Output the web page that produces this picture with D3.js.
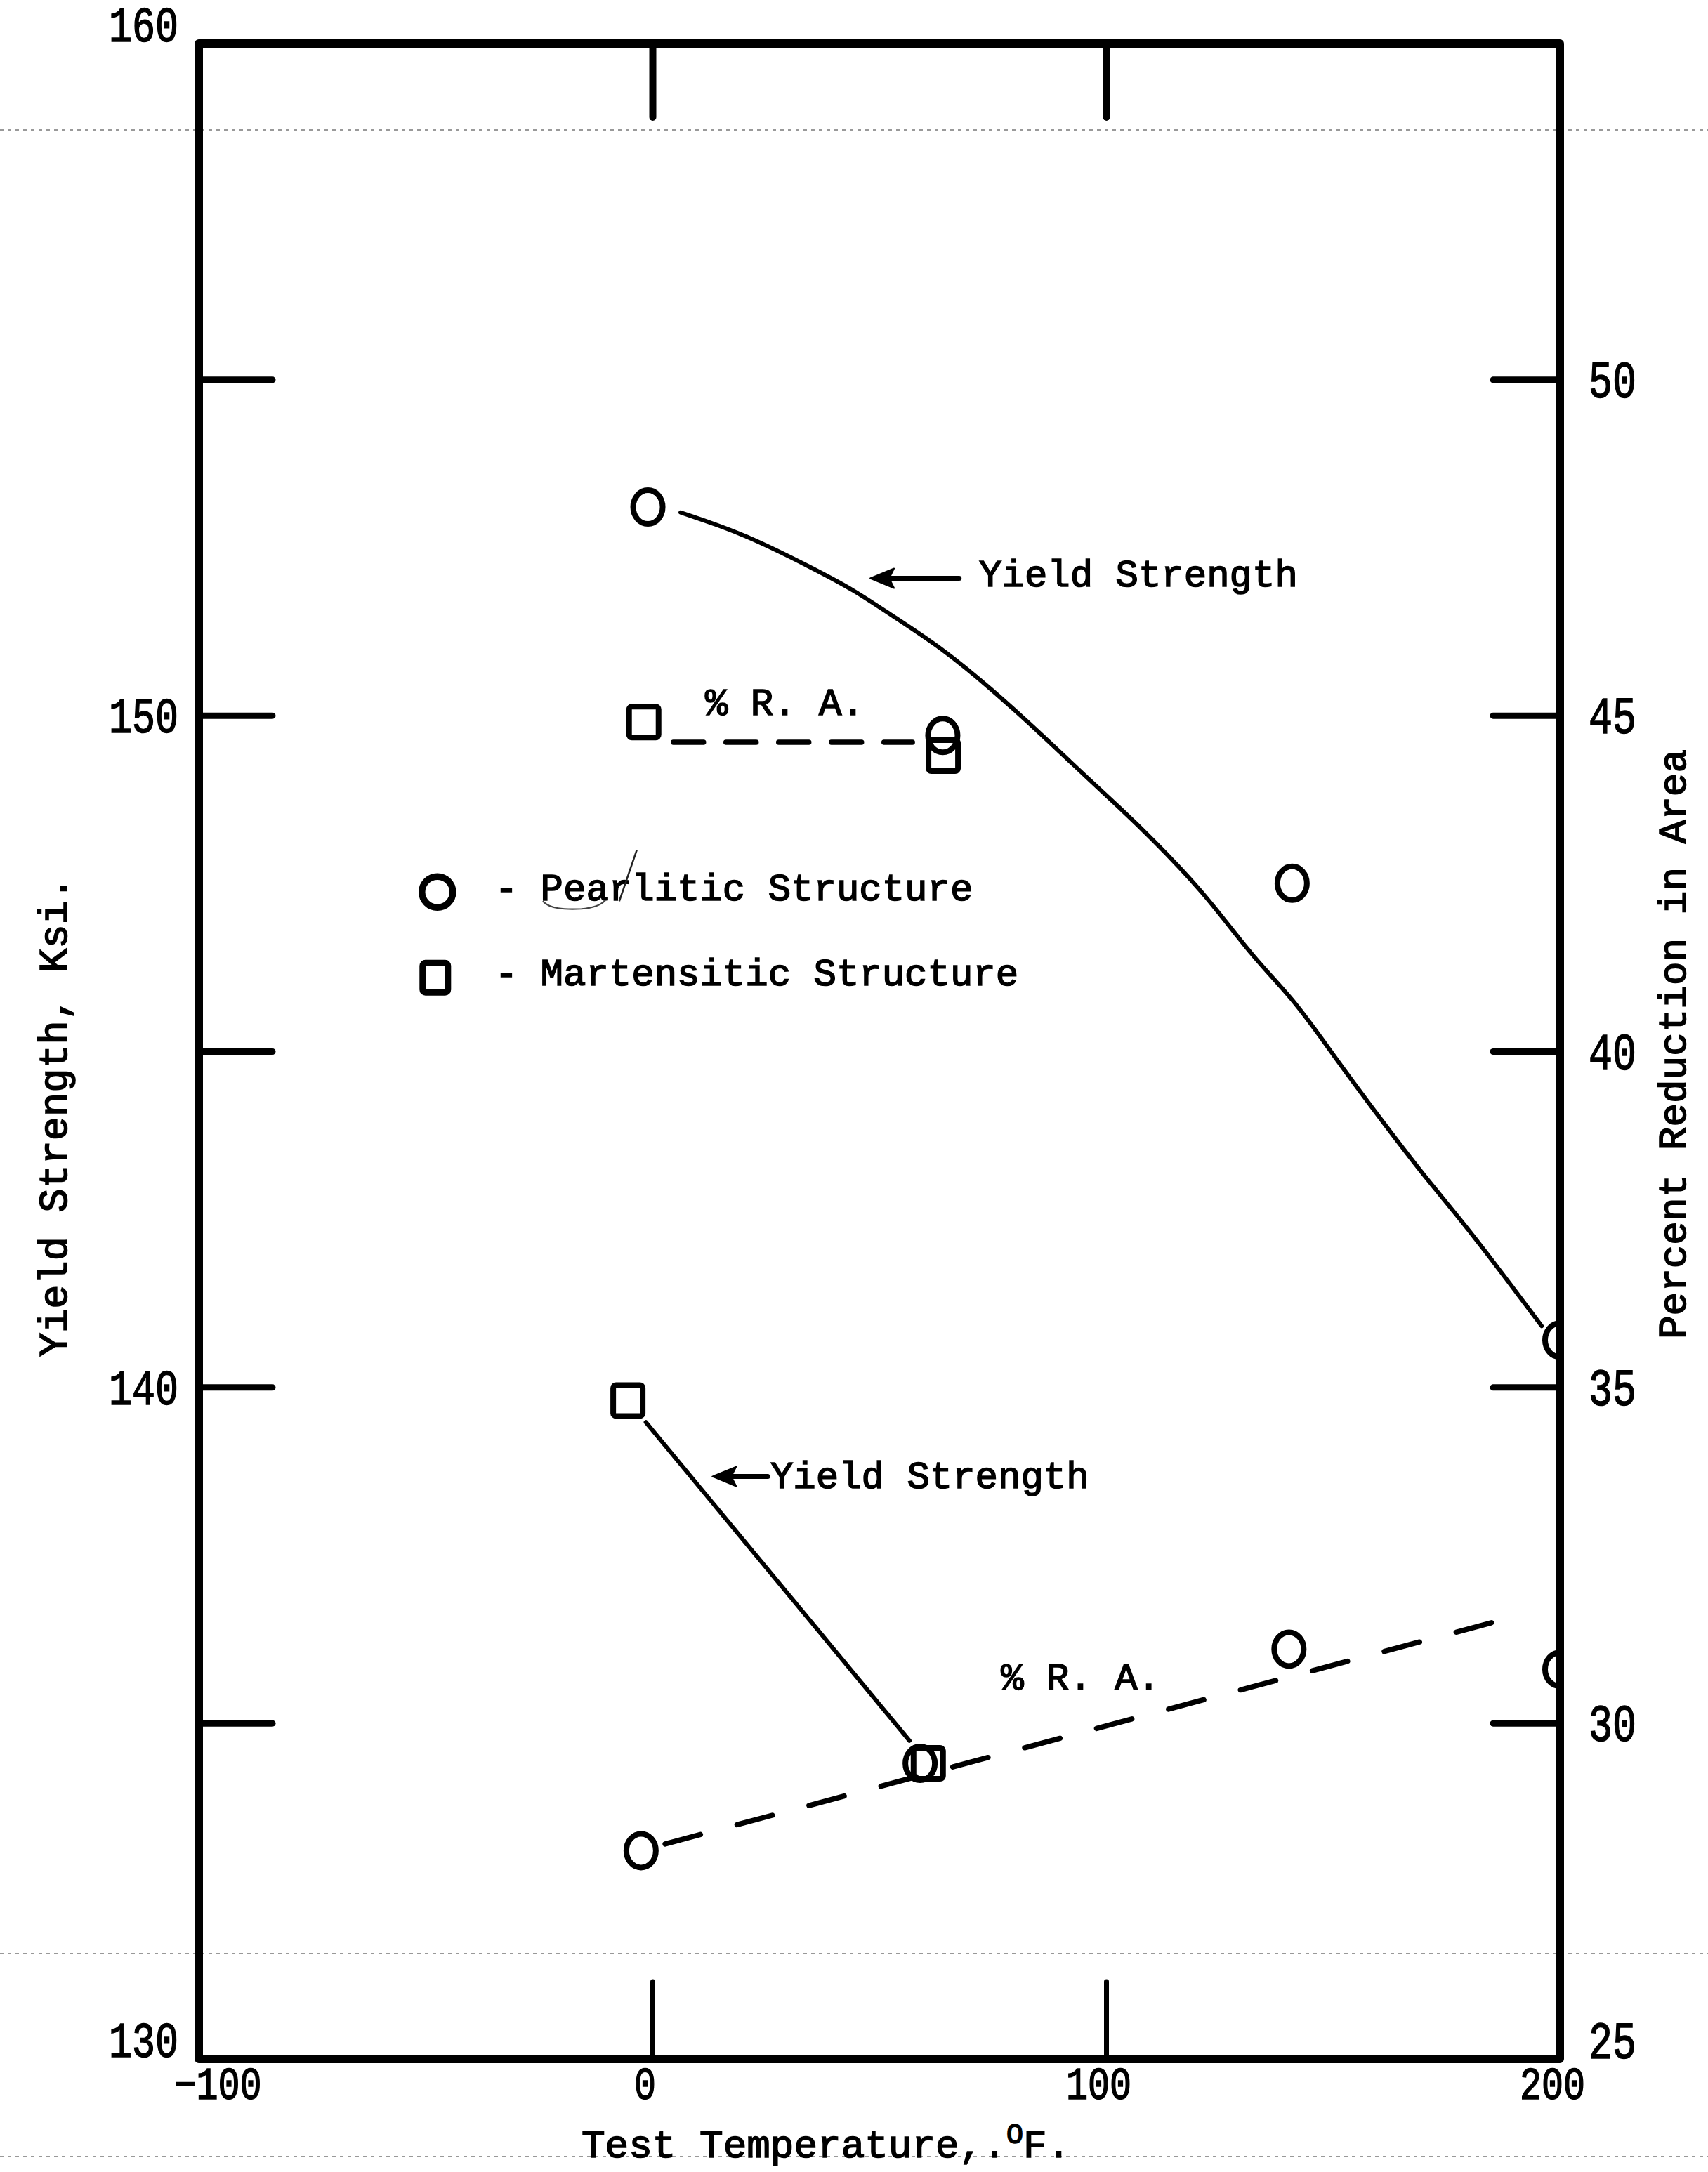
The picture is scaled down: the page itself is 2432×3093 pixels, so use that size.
<!DOCTYPE html>
<html>
<head>
<meta charset="utf-8">
<script src="https://cdn.jsdelivr.net/npm/d3@7"></script>
<style>
  html, body { margin: 0; padding: 0; background: #fff; }
  svg { display: block; }
  .type { font-family: "Liberation Mono", "Courier New", "DejaVu Sans Mono", monospace; fill: #000; stroke: #000; stroke-width: 1.6px; }
</style>
</head>
<body>
<svg id="chart" width="2432" height="3093"></svg>
<script>
// ---- Data: test temperature (deg F), yield strength (ksi), reduction in area (%) ----
// Pearlitic structure
const pearliticYieldTemp = [-1, 64, 141, 200];
const pearliticYield     = [153.1, 149.7, 147.5, 140.7];
// hand-faired yield strength curve through the pearlitic points
const pearliticYieldCurveTemp = [6.2, 20.3, 35.6, 44.3, 52.9, 63.8, 74.6, 85.4, 96.3, 102.9, 109.6, 121.8, 132.5, 141.6, 150.8, 161.5, 170.7, 179.9, 196.0];
const pearliticYieldCurve     = [153.02, 152.70, 152.18, 151.87, 151.48, 151.00, 150.40, 149.74, 149.04, 148.63, 148.20, 147.35, 146.38, 145.76, 144.87, 143.90, 143.09, 142.36, 140.91];
const pearliticRaTemp = [-2.5, 59, 140.3, 200];
const pearliticRa     = [28.1, 29.4, 31.1, 30.8];
// faired reduction-in-area line (dashed)
const pearliticRaLineTemp = [2.8, 185.3];
const pearliticRaLine     = [28.2, 31.5];

// Martensitic structure
const martensiticYieldTemp = [-5.4, 60.8];
const martensiticYield     = [139.8, 134.4];
const martensiticRaTemp = [-1.9, 64.1];
const martensiticRa     = [44.9, 44.4];
const martensiticRaLineTemp = [4.6, 57.3];
const martensiticRaLine     = [44.6, 44.6];

// ---- Axis ticks ----
const tempTicks        = [-100, 0, 100, 200];
const tempInnerTicks   = [0, 100];
const yieldLabelTicks  = [130, 140, 150, 160];
const yieldInnerTicks  = [135, 140, 145, 150, 155];
const raLabelTicks     = [25, 30, 35, 40, 45, 50];
const raInnerTicks     = [30, 35, 40, 45, 50];

// ---- Scales ----
const x  = d3.scaleLinear().domain([-100, 200]).range([283, 2221]);
const yL = d3.scaleLinear().domain([130, 160]).range([2932, 62]);
const yR = d3.scaleLinear().domain([25, 55]).range([2932, 62]);

const svg = d3.select("#chart");
svg.append("rect").attr("width", 2432).attr("height", 3093).attr("fill", "#fff");

const [x0, x1] = x.range();
const [yb, yt] = yL.range();

// faint ruled lines of the paper
const rules = svg.append("g").attr("stroke", "#777").attr("stroke-width", 2.2)
  .attr("stroke-dasharray", "5 6").attr("opacity", 0.75);
[185, 2782, 3071].forEach(ry => {
  rules.append("line").attr("x1", 0).attr("x2", 2432).attr("y1", ry).attr("y2", ry);
});

// ---- Inner ticks ----
function styleTicks(g, w) {
  g.select(".domain").remove();
  g.selectAll("text").remove();
  g.selectAll("line").attr("stroke", "#000").attr("stroke-width", w).attr("stroke-linecap", "round");
}
svg.append("g").attr("transform", `translate(${x0},0)`)
  .call(d3.axisLeft(yL).tickValues(yieldInnerTicks).tickSizeInner(-105).tickSizeOuter(0))
  .call(g => styleTicks(g, 9));
svg.append("g").attr("transform", `translate(${x1},0)`)
  .call(d3.axisRight(yR).tickValues(raInnerTicks).tickSizeInner(-95).tickSizeOuter(0))
  .call(g => styleTicks(g, 9));
svg.append("g").attr("transform", `translate(0,${yt})`)
  .call(d3.axisTop(x).tickValues(tempInnerTicks).tickSizeInner(-105).tickSizeOuter(0))
  .call(g => styleTicks(g, 10));
svg.append("g").attr("transform", `translate(0,${yb})`)
  .call(d3.axisBottom(x).tickValues(tempInnerTicks).tickSizeInner(-110).tickSizeOuter(0))
  .call(g => styleTicks(g, 7));

// ---- Frame ----
svg.append("rect")
  .attr("x", x0).attr("y", yt).attr("width", x1 - x0).attr("height", yb - yt)
  .attr("fill", "none").attr("stroke", "#000").attr("stroke-width", 12)
  .attr("stroke-linejoin", "round");

// ---- Tick labels (typed digits are tall and narrow) ----
function styleLabels(g, size, advance) {
  g.select(".domain").remove();
  g.selectAll("line").remove();
  g.selectAll("text").attr("class", "type").attr("font-size", size)
    .attr("textLength", function () { return this.textContent.length * advance; })
    .attr("lengthAdjust", "spacingAndGlyphs");
}
svg.append("g").attr("transform", `translate(${x0},0)`)
  .call(d3.axisLeft(yL).tickValues(yieldLabelTicks).tickSize(0).tickPadding(29).tickFormat(d3.format("d")))
  .call(g => styleLabels(g, 70, 33))
  .call(g => g.selectAll("text").attr("dy", d => (d === 130 || d === 160) ? "-0.05em" : "0.34em"));
svg.append("g").attr("transform", `translate(${x1},0)`)
  .call(d3.axisRight(yR).tickValues(raLabelTicks).tickSize(0).tickPadding(41).tickFormat(d3.format("d")))
  .call(g => styleLabels(g, 74, 34))
  .call(g => g.selectAll("text").attr("dy", d => d === 25 ? "-0.02em" : "0.34em"));
svg.append("g").attr("transform", `translate(0,${yb})`)
  .call(d3.axisBottom(x).tickValues(tempTicks).tickSize(0).tickPadding(12).tickFormat(d3.format("d")))
  .call(g => styleLabels(g, 64, 31))
  .call(g => g.selectAll("text").attr("dx", d => d < 0 ? 27 : -11));

// ---- Axis titles ----
svg.append("text").attr("class", "type").attr("font-size", 57)
  .attr("text-anchor", "middle")
  .attr("transform", `translate(95,1590) rotate(-90)`)
  .text("Yield Strength, Ksi.");
svg.append("text").attr("class", "type").attr("font-size", 56)
  .attr("text-anchor", "middle")
  .attr("transform", `translate(2400,1487) rotate(-90)`)
  .text("Percent Reduction in Area");
const xt = svg.append("text").attr("class", "type").attr("font-size", 56)
  .attr("x", 828).attr("y", 3072);
xt.append("tspan").text("Test Temperature,.");
xt.append("tspan").attr("font-size", 40).attr("dy", -20).text("O");
xt.append("tspan").attr("dy", 20).text("F.");

// ---- Plot marks (clipped to the frame) ----
svg.append("clipPath").attr("id", "plotClip")
  .append("rect").attr("x", x0).attr("y", yt).attr("width", x1 - x0).attr("height", yb - yt);
const plot = svg.append("g").attr("clip-path", "url(#plotClip)");

const zip = (ts, vs) => ts.map((t, i) => ({ t, v: vs[i] }));

// pearlitic yield strength curve (solid, smoothly faired)
plot.append("path")
  .datum(zip(pearliticYieldCurveTemp, pearliticYieldCurve))
  .attr("fill", "none").attr("stroke", "#000").attr("stroke-width", 6)
  .attr("stroke-linecap", "round").attr("stroke-linejoin", "round")
  .attr("d", d3.line().x(d => x(d.t)).y(d => yL(d.v)).curve(d3.curveBasis));

// martensitic yield strength line (solid, trimmed clear of the markers)
{
  const p = zip(martensiticYieldTemp, martensiticYield).map(d => [x(d.t), yL(d.v)]);
  const dx = p[1][0] - p[0][0], dy = p[1][1] - p[0][1];
  const len = Math.hypot(dx, dy), ux = dx / len, uy = dy / len;
  plot.append("line")
    .attr("x1", p[0][0] + ux * 40).attr("y1", p[0][1] + uy * 40)
    .attr("x2", p[1][0] - ux * 42).attr("y2", p[1][1] - uy * 42)
    .attr("stroke", "#000").attr("stroke-width", 6).attr("stroke-linecap", "round");
}

// reduction-in-area lines (dashed)
plot.append("path")
  .datum(zip(martensiticRaLineTemp, martensiticRaLine))
  .attr("fill", "none").attr("stroke", "#000").attr("stroke-width", 7.5)
  .attr("stroke-linecap", "round").attr("stroke-dasharray", "43 32")
  .attr("d", d3.line().x(d => x(d.t)).y(d => yR(d.v)));
plot.append("path")
  .datum(zip(pearliticRaLineTemp, pearliticRaLine))
  .attr("fill", "none").attr("stroke", "#000").attr("stroke-width", 7.5)
  .attr("stroke-linecap", "round").attr("stroke-dasharray", "52 54")
  .attr("d", d3.line().x(d => x(d.t)).y(d => yR(d.v)));

// markers
function circles(data, yScale) {
  plot.append("g").selectAll("ellipse").data(data).join("ellipse")
    .attr("cx", d => x(d.t)).attr("cy", d => yScale(d.v))
    .attr("rx", 21).attr("ry", 24)
    .attr("fill", "none").attr("stroke", "#000").attr("stroke-width", 8);
}
function squares(data, yScale) {
  plot.append("g").selectAll("rect").data(data).join("rect")
    .attr("x", d => x(d.t) - 21).attr("y", d => yScale(d.v) - 22)
    .attr("width", 42).attr("height", 44).attr("rx", 4)
    .attr("fill", "none").attr("stroke", "#000").attr("stroke-width", 8);
}
circles(zip(pearliticYieldTemp, pearliticYield), yL);
circles(zip(pearliticRaTemp, pearliticRa), yR);
squares(zip(martensiticYieldTemp, martensiticYield), yL);
squares(zip(martensiticRaTemp, martensiticRa), yR);

// ---- Curve labels with arrows ----
const notes = [
  { text: "Yield Strength", t: 72.0, v: 151.92, scale: yL, arrow: { from: 67.6, to: 48.0, v: 152.04 } },
  { text: "% R. A.",        t: 11.6, v: 150.01, scale: yL },
  { text: "Yield Strength", t: 26.0, v: 138.50, scale: yL, arrow: { from: 25.4, to: 13.2, v: 138.67 } },
  { text: "% R. A.",        t: 76.8, v: 135.50, scale: yL }
];
notes.forEach(n => {
  svg.append("text").attr("class", "type").attr("font-size", 54)
    .attr("x", x(n.t)).attr("y", n.scale(n.v)).text(n.text);
  if (n.arrow) {
    const ax0 = x(n.arrow.from), ax1 = x(n.arrow.to), ay = n.scale(n.arrow.v);
    svg.append("line").attr("x1", ax0).attr("x2", ax1 + 20).attr("y1", ay).attr("y2", ay)
      .attr("stroke", "#000").attr("stroke-width", 7).attr("stroke-linecap", "round");
    svg.append("path")
      .attr("d", `M${ax1},${ay} L${ax1 + 34},${ay - 14} L${ax1 + 27},${ay} L${ax1 + 34},${ay + 14} Z`)
      .attr("fill", "#000").attr("stroke", "#000").attr("stroke-width", 2).attr("stroke-linejoin", "round");
  }
});

// ---- Legend ----
const legend = svg.append("g")
  .attr("transform", `translate(${x(-47.4)},${yL(147.37)})`);
legend.append("ellipse").attr("cx", 0).attr("cy", 0).attr("rx", 22).attr("ry", 22)
  .attr("fill", "none").attr("stroke", "#000").attr("stroke-width", 9.5);
legend.append("text").attr("class", "type").attr("font-size", 54)
  .attr("x", 82).attr("y", 12).text("- Pearlitic Structure");
legend.append("rect").attr("x", -21).attr("y", 101).attr("width", 36).attr("height", 42).attr("rx", 4)
  .attr("fill", "none").attr("stroke", "#000").attr("stroke-width", 9);
legend.append("text").attr("class", "type").attr("font-size", 54)
  .attr("x", 82).attr("y", 133).text("- Martensitic Structure");
// pencil correction marks on the first legend entry
legend.append("path").attr("d", "M284,-60 L259,13")
  .attr("fill", "none").attr("stroke", "#222").attr("stroke-width", 2.5);
legend.append("path").attr("d", "M150,13 C160,24 180,25 205,24 C220,23 232,19 239,12")
  .attr("fill", "none").attr("stroke", "#444").attr("stroke-width", 2.2);
</script>
</body>
</html>
